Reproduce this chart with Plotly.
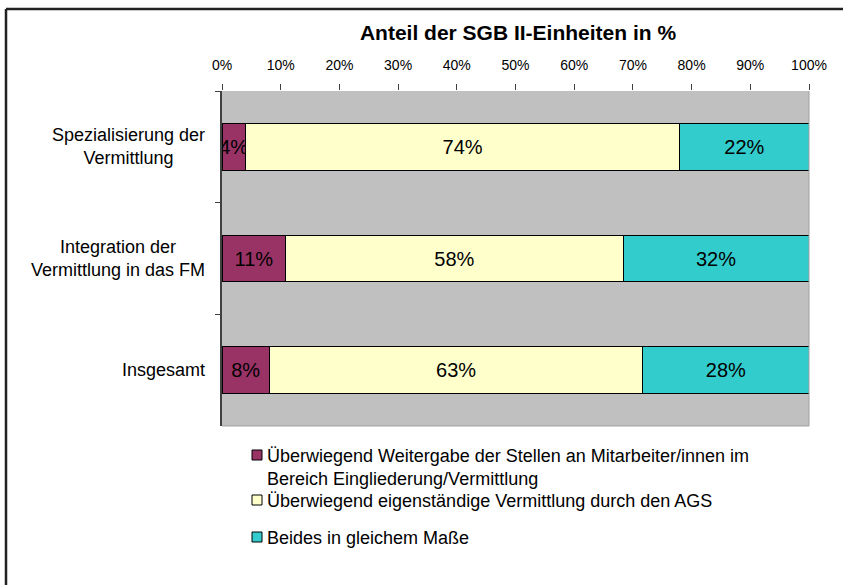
import plotly.graph_objects as go

# Categories (top to bottom) and shares per answer option
categories = ["Spezialisierung der<br>Vermittlung",
              "Integration der<br>Vermittlung in das FM",
              "Insgesamt"]
weitergabe = [4, 11, 8]
eigenstaendig = [74, 58, 63]
beides = [22, 32, 28]

series_names = ["Überwiegend Weitergabe der Stellen an Mitarbeiter/innen im<br>Bereich Eingliederung/Vermittlung",
                "Überwiegend eigenständige Vermittlung durch den AGS",
                "Beides in gleichem Maße"]
series_values = [weitergabe, eigenstaendig, beides]
series_colors = ["#993366", "#FFFFCC", "#33CCCC"]

x_ticks = list(range(0, 101, 10))
x_ticktext = [f"{t}%" for t in x_ticks]

FONT = "Liberation Sans, Arial, sans-serif"
W, H = 843, 585
L, R, T = 222, 34, 91
PLOT_BOTTOM = 426
B = H - PLOT_BOTTOM
PW, PH = W - L - R, PLOT_BOTTOM - T


def px_x(px):
    return (px - L) / PW


def px_y(py):
    return (PLOT_BOTTOM - py) / PH


fig = go.Figure()
for name, vals, col in zip(series_names, series_values, series_colors):
    fig.add_trace(go.Bar(
        y=categories, x=vals, name=name, orientation="h",
        marker=dict(color=col, line=dict(color="#000000", width=1)),
        text=[f"{v}%" for v in vals], textposition="inside",
        insidetextanchor="middle", textangle=0, constraintext="none",
        textfont=dict(family=FONT, size=20, color="#000000"),
        width=0.42, hoverinfo="skip", showlegend=False,
    ))

fig.update_layout(
    width=W, height=H,
    margin=dict(l=L, r=R, t=T, b=B),
    barmode="stack", barnorm="percent",
    plot_bgcolor="#C0C0C0", paper_bgcolor="#FFFFFF",
    font=dict(family=FONT, size=14, color="#000000"),
    title=dict(text="<b>Anteil der SGB II-Einheiten in %</b>",
               x=518 / W, xanchor="center", y=1 - 33 / H, yanchor="middle",
               font=dict(family=FONT, size=21, color="#000000")),
    xaxis=dict(side="top", range=[0, 100], tickvals=x_ticks, ticktext=x_ticktext,
               ticks="outside", ticklen=6, tickcolor="#404040", showgrid=False,
               zeroline=False, showline=False, ticklabelstandoff=8,
               tickfont=dict(family=FONT, size=14, color="#000000")),
    yaxis=dict(autorange="reversed", ticks="outside", tickson="boundaries",
               ticklen=5, tickcolor="#404040", showline=True, linecolor="#404040",
               linewidth=2, showgrid=False, zeroline=False, showticklabels=False),
    showlegend=False,
)

# Category labels, centred line by line, right edge next to the axis
for cat in categories:
    fig.add_annotation(x=px_x(207), xref="paper", y=cat, yref="y",
                       text=cat, showarrow=False, xanchor="right", yanchor="middle",
                       align="center", font=dict(family=FONT, size=18, color="#000000"))

# Legend: coloured squares with the series names
legend_rows = [455, 500, 537]
for name, col, row in zip(series_names, series_colors, legend_rows):
    fig.add_shape(type="rect", xref="paper", yref="paper",
                  x0=px_x(252), x1=px_x(262), y0=px_y(row + 5), y1=px_y(row - 5),
                  fillcolor=col, line=dict(color="#000000", width=1))
    fig.add_annotation(x=px_x(265), xref="paper", y=px_y(row - 11), yref="paper",
                       text=name, showarrow=False, xanchor="left", yanchor="top",
                       align="left", font=dict(family=FONT, size=18, color="#000000"))

# Thin edge on the right/bottom of the plotting area
fig.add_shape(type="line", xref="paper", yref="paper", x0=1, x1=1, y0=0, y1=1,
              line=dict(color="#A0A0A0", width=1))
fig.add_shape(type="line", xref="paper", yref="paper", x0=0, x1=1, y0=0, y1=0,
              line=dict(color="#A0A0A0", width=1))

# Outer frame: top and left edges of the chart border
fig.add_shape(type="line", xref="paper", yref="paper",
              x0=px_x(6), x1=px_x(W + 20), y0=px_y(9), y1=px_y(9),
              line=dict(color="#222222", width=2.5), layer="below")
fig.add_shape(type="line", xref="paper", yref="paper",
              x0=px_x(6), x1=px_x(6), y0=px_y(9), y1=px_y(H + 20),
              line=dict(color="#222222", width=2.5), layer="below")

fig.write_html("out.html")
